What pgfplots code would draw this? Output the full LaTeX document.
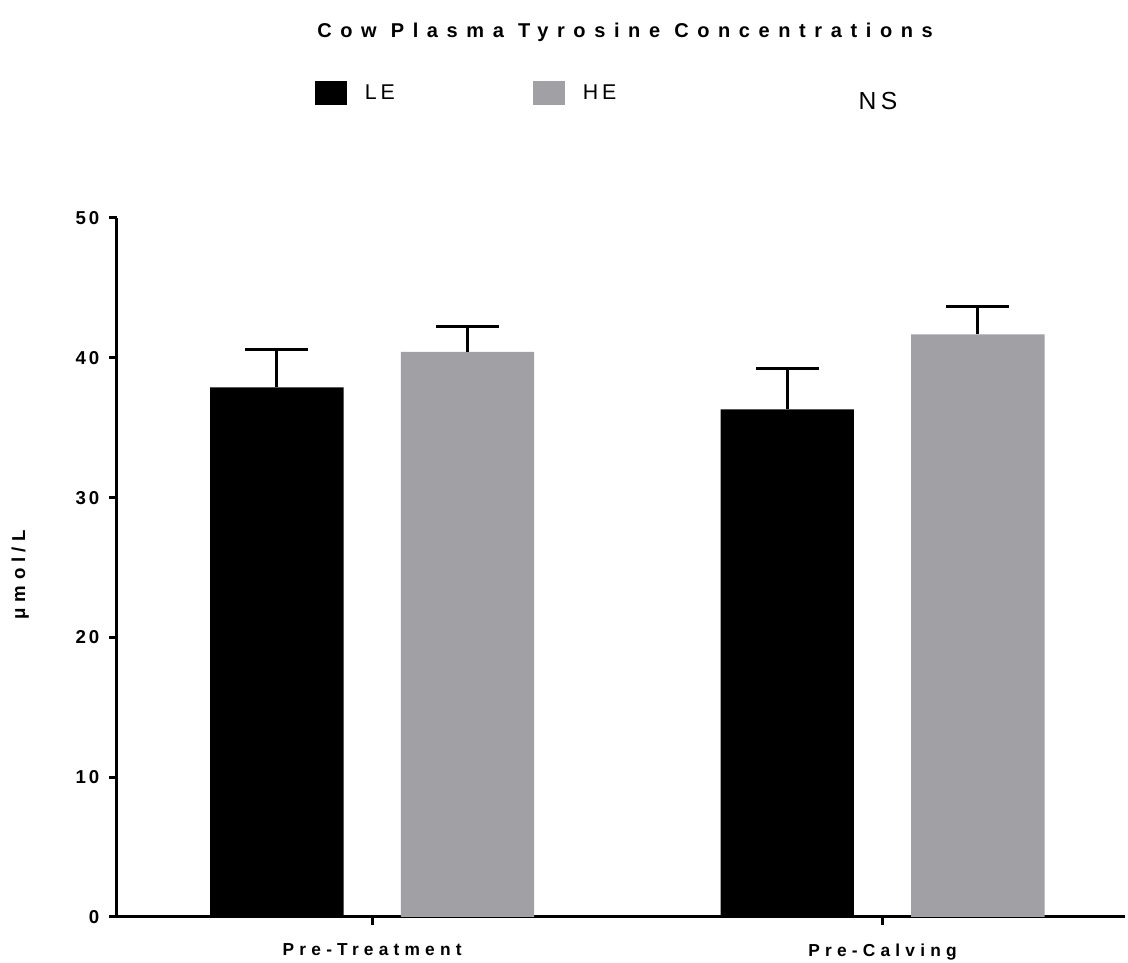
\documentclass[border=0pt]{standalone}
\usepackage{fontspec}
\setmainfont{Liberation Sans}
\newfontfamily\titlefont[LetterSpace=43]{Liberation Sans}
\newfontfamily\labelfont[LetterSpace=30]{Liberation Sans}
\newfontfamily\numfont[LetterSpace=15]{Liberation Sans}
\newfontfamily\keyfont[LetterSpace=18]{Liberation Sans}
\usepackage{pgfplots}
\pgfplotsset{compat=1.18}
\definecolor{hegray}{HTML}{A1A0A5}

\begin{document}
\begin{tikzpicture}[x=1pt,y=1pt]
\useasboundingbox (-87.75,-34.5) rectangle (758.25,687.75);
\begin{axis}[
  at={(0,0)}, anchor=south west,
  scale only axis, width=756pt, height=524.25pt,
  xmin=-0.5, xmax=1.475, ymin=0, ymax=50,
  clip=false,
  axis lines*=left,
  axis line style={line width=2.25pt, black},
  xtick={0,1}, xticklabels={Pre-Treatment, Pre-Calving},
  ytick={0,10,20,30,40,50},
  tick align=outside, major tick length=6pt,
  tick style={line width=2.25pt, black},
  /pgf/number format/assume math mode=true,
  xticklabel style={font=\labelfont\bfseries\fontsize{13}{15}\selectfont, yshift=-10.5pt},
  yticklabel style={font=\numfont\bfseries\fontsize{14}{16}\selectfont, xshift=-3.75pt},
  ylabel={μmol/L},
  ylabel style={font=\labelfont\bfseries\fontsize{14}{16}\selectfont, at={(axis description cs:-0.096,0.49)}, anchor=center},
  title={Cow Plasma Tyrosine Concentrations},
  title style={font=\titlefont\bfseries\fontsize{15}{17}\selectfont, at={(axis description cs:0.504,1.254)}, anchor=center, yshift=0pt},
  ybar=43pt, bar width=100pt,
  enlarge x limits=false,
  legend columns=2,
  legend style={draw=none, fill=none, inner sep=0pt, outer sep=0pt,
    nodes={inner sep=0pt, outer sep=0pt, anchor=west},
    font=\keyfont\fontsize{16}{18}\selectfont,
    at={(axis description cs:0.1964,1.179)}, anchor=west},
  legend image code/.code={\fill[#1] (0pt,-9pt) rectangle (24pt,9pt);},
  error bars/error bar style={line width=2.25pt, black},
  error bars/error mark options={line width=2.25pt, black, mark size=23.6pt, rotate=90},
]
\addplot[fill=black, draw=none,
  error bars/.cd, y dir=plus, y explicit]
  coordinates {(0,37.89) +- (0,2.67) (1,36.31) +- (0,2.89)};
\addplot[fill=hegray, draw=none,
  error bars/.cd, y dir=plus, y explicit]
  coordinates {(0,40.43) +- (0,1.84) (1,41.68) +- (0,1.97)};
\legend{\hspace*{13.5pt}\makebox[126pt][l]{LE}, \hspace*{13.5pt}HE}
\node[font=\keyfont\fontsize{18.5}{20}\selectfont] at (axis description cs:0.755,1.168) {NS};
\end{axis}
\end{tikzpicture}
\end{document}
